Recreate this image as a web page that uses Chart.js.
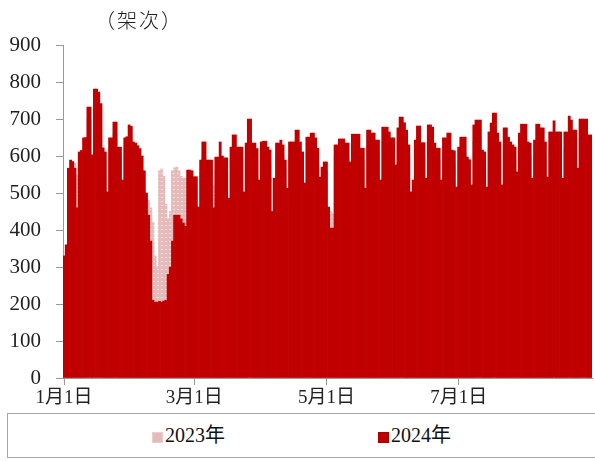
<!DOCTYPE html>
<html>
<head>
<meta charset="utf-8">
<script src="https://cdn.jsdelivr.net/npm/chart.js@4.4.1/dist/chart.umd.min.js"></script>
<style>
  body { margin: 0; background: #fff; width: 595px; height: 461px; overflow: hidden; position: relative; }
  #wrap { position: absolute; left: 0; top: 0; width: 595px; height: 412px; }
  #unit { position: absolute; left: 95px; top: 5px; font-size: 20px; color: #222; letter-spacing: 2px;
          font-family: "Noto Sans CJK SC", sans-serif; font-weight: 300; }
  #legend { position: absolute; left: 7px; top: 413px; width: 600px; height: 45px;
            border: 1px solid #a6a6a6; box-sizing: border-box; }
  .item { position: absolute; top: 10px; font-size: 20px; color: #111; line-height: 22px;
          font-family: "Liberation Serif", "Noto Sans CJK SC", serif; }
  .mark { display: inline-block; width: 9px; height: 9px; margin-right: 2px; vertical-align: -1px; }
</style>
</head>
<body>
<div id="wrap"><canvas id="chart" width="595" height="412"></canvas></div>
<div id="unit">（架次）</div>
<div id="legend">
  <div class="item" style="left:144px"><span class="mark" id="mark23"></span>2023年</div>
  <div class="item" style="left:370px"><span class="mark" style="background:#c00000;border:1px solid #a80000"></span>2024年</div>
</div>
<script>
const FONT = "'Liberation Serif', 'Noto Sans CJK SC', serif";

const tickLabels = ["1月1日", "3月1日", "5月1日", "7月1日"];
const tickDays = [0, 60, 121, 182];

// one row per week, Monday..Sunday
const flights2024 = [
  330, 360, 567, 589, 585, 567, 460,
  611, 615, 649, 650, 732, 732, 603,
  781, 781, 773, 742, 622, 611, 503,
  649, 649, 692, 692, 624, 624, 535,
  649, 652, 684, 680, 638, 635, 628,
  620, 600, 560, 500, 440, 370, 210,
  205, 205, 207, 205, 208, 210, 280,
  300, 370, 440, 440, 440, 430, 419,
  410, 562, 562, 560, 544, 544, 462,
  589, 638, 638, 589, 589, 589, 460,
  597, 597, 638, 600, 595, 595, 486,
  624, 657, 657, 624, 624, 624, 503,
  635, 700, 700, 635, 635, 620, 535,
  638, 640, 640, 624, 616, 450, 540,
  635, 635, 643, 630, 589, 513, 638,
  638, 638, 670, 670, 638, 611, 527,
  651, 651, 662, 662, 649, 621, 543,
  570, 584, 584, 462, 405, 405, 630,
  630, 646, 646, 646, 635, 635, 584,
  659, 659, 659, 659, 621, 621, 513,
  670, 670, 662, 662, 643, 643, 535,
  678, 678, 678, 665, 649, 649, 576,
  676, 705, 705, 690, 670, 630, 503,
  535, 643, 681, 681, 636, 636, 540,
  684, 684, 678, 635, 621, 621, 535,
  649, 649, 662, 662, 616, 614, 516,
  624, 651, 651, 651, 597, 590, 522,
  684, 697, 697, 697, 616, 611, 516,
  665, 689, 716, 716, 662, 638, 522,
  676, 676, 651, 638, 630, 624, 557,
  662, 686, 686, 686, 638, 635, 540,
  643, 686, 686, 676, 676, 638, 543,
  665, 665, 695, 665, 665, 665, 540,
  665, 665, 708, 697, 670, 670, 567,
  700, 700, 700, 700, 657, 657
];

const flights2023 = [
  300, 340, 540, 560, 560, 580, 550,
  590, 600, 620, 630, 700, 700, 580,
  740, 750, 740, 700, 600, 590, 490,
  620, 620, 660, 660, 600, 600, 520,
  620, 630, 650, 650, 620, 610, 600,
  590, 560, 520, 490, 480, 460, 420,
  330, 300, 560, 565, 545, 470, 430,
  450, 560, 568, 570, 560, 545, 540,
  540, 540, 540, 540, 520, 520, 450,
  550, 600, 600, 560, 560, 560, 520,
  560, 560, 600, 570, 560, 560, 470,
  590, 620, 620, 590, 590, 590, 480,
  600, 660, 660, 600, 600, 590, 510,
  600, 610, 610, 590, 580, 540, 520,
  600, 600, 610, 600, 560, 490, 600,
  600, 600, 630, 630, 600, 580, 500,
  610, 610, 620, 620, 610, 590, 520,
  540, 560, 560, 455, 450, 445, 600,
  600, 610, 610, 610, 600, 600, 560,
  620, 620, 620, 620, 590, 590, 490,
  630, 630, 620, 620, 610, 610, 510,
  640, 640, 640, 630, 610, 610, 550,
  640, 660, 660, 650, 630, 600, 480,
  510, 610, 640, 640, 600, 600, 510,
  640, 640, 640, 600, 590, 590, 510,
  610, 610, 620, 620, 580, 580, 490,
  590, 610, 610, 610, 560, 560, 500,
  640, 650, 650, 650, 580, 580, 490,
  620, 650, 670, 670, 620, 600, 500,
  630, 630, 610, 600, 590, 590, 530,
  620, 640, 640, 640, 600, 600, 510,
  600, 640, 640, 630, 630, 600, 520,
  620, 620, 650, 620, 620, 620, 510,
  620, 620, 660, 650, 630, 630, 540,
  650, 650, 650, 650, 620, 620
];

const days = [];
for (let i = 0; i < flights2024.length; i++) {
  const d = new Date(2024, 0, 1 + i);
  days.push((d.getMonth() + 1) + "月" + d.getDate() + "日");
}

// pink with light dots, like the office pattern fill
function dotPattern() {
  const c = document.createElement("canvas");
  c.width = 4; c.height = 4;
  const g = c.getContext("2d");
  g.fillStyle = "#e6baba";
  g.fillRect(0, 0, 4, 4);
  g.fillStyle = "#f3dcdc";
  g.fillRect(1, 1, 2, 1);
  return g.createPattern(c, "repeat");
}

const mark = document.getElementById("mark23");
mark.style.background = "#e6baba";
mark.style.border = "1px solid #eecccc";

const ctx = document.getElementById("chart").getContext("2d");
new Chart(ctx, {
  type: "bar",
  data: {
    labels: days,
    datasets: [
      {
        label: "2023年",
        data: flights2023,
        backgroundColor: dotPattern(),
        order: 1,
        grouped: false,
        barPercentage: 1,
        categoryPercentage: 1,
      },
      {
        label: "2024年",
        data: flights2024,
        backgroundColor: "#c00000",
        order: 0,
        grouped: false,
        barPercentage: 1,
        categoryPercentage: 1,
      },
    ],
  },
  options: {
    responsive: false,
    animation: false,
    layout: { padding: { top: 45, right: 3, left: 0, bottom: 0 } },
    plugins: {
      legend: { display: false },
      tooltip: { enabled: false },
    },
    scales: {
      x: {
        grid: { drawOnChartArea: false, tickLength: 7, color: "#999", offset: false },
        border: { color: "#999" },
        ticks: {
          autoSkip: false,
          maxRotation: 0,
          padding: 2,
          color: "#222",
          font: { family: FONT, size: 19 },
          callback: (v) => tickLabels[tickDays.indexOf(v)],
        },
        afterBuildTicks: (s) => { s.ticks = tickDays.map(v => ({ value: v })); },
        afterFit: (s) => { s.height = 34; },
      },
      y: {
        min: 0,
        max: 900,
        ticks: { stepSize: 100, padding: 15, color: "#222", font: { family: FONT, size: 21 } },
        grid: { drawOnChartArea: false, tickLength: 7, color: "#999" },
        border: { color: "#999" },
        afterFit: (s) => { s.width = 63; },
      },
    },
  },
});
</script>
</body>
</html>
